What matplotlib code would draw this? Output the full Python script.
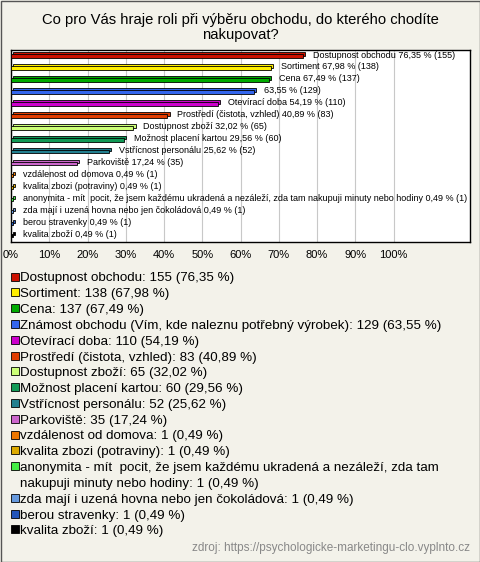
import textwrap
import matplotlib
matplotlib.use("Agg")
import matplotlib.pyplot as plt
from matplotlib.patches import Rectangle

plt.rcParams['font.family'] = ['Liberation Sans', 'DejaVu Sans']

title = "Co pro Vás hraje roli při výběru obchodu, do kterého chodíte\nnakupovat?"
source = "zdroj: https://psychologicke-marketingu-clo.vyplnto.cz"

labels = [
    "Dostupnost obchodu",
    "Sortiment",
    "Cena",
    "Známost obchodu (Vím, kde naleznu potřebný výrobek)",
    "Otevírací doba",
    "Prostředí (čistota, vzhled)",
    "Dostupnost zboží",
    "Možnost placení kartou",
    "Vstřícnost personálu",
    "Parkoviště",
    "vzdálenost od domova",
    "kvalita zbozi (potraviny)",
    "anonymita - mít  pocit, že jsem každému ukradená a nezáleží, zda tam nakupuji minuty nebo hodiny",
    "zda mají i uzená hovna nebo jen čokoládová",
    "berou stravenky",
    "kvalita zboží",
]
# the bar for "Známost obchodu" carries only its numbers
show_name = [True, True, True, False] + [True] * 12
counts = [155, 138, 137, 129, 110, 83, 65, 60, 52, 35, 1, 1, 1, 1, 1, 1]
percents = [76.35, 67.98, 67.49, 63.55, 54.19, 40.89, 32.02, 29.56, 25.62, 17.24,
            0.49, 0.49, 0.49, 0.49, 0.49, 0.49]
colors = ['#cc1100', '#ffee00', '#00aa00', '#3366ee', '#cc00cc', '#e03c00',
          '#ccff77', '#119955', '#227f8f', '#cc66cc', '#ee7700', '#ddaa00',
          '#44ee44', '#6699dd', '#2255bb', '#000000']
xticks = [0, 10, 20, 30, 40, 50, 60, 70, 80, 90, 100]

W, H = 480, 562
bg = '#f3f2ea'


def fmt(p):
    return f"{p:.2f}".replace('.', ',')


fig = plt.figure(figsize=(W / 100, H / 100), dpi=100, facecolor=bg)
fig.patches.append(Rectangle((0.5 / W, 0.5 / H), 1 - 1 / W, 1 - 1 / H,
                             transform=fig.transFigure, fill=False,
                             edgecolor='#555555', linewidth=1))

fig.text(0.5, 1 - 27.5 / H, title, ha='center', va='center', fontsize=10.6,
         linespacing=1.05)

ax = fig.add_axes([11 / W, 1 - 242 / H, 459 / W, 192 / H])
ax.set_facecolor('white')
n = len(labels)
ys = list(range(n))

# bars with a small 3d look: top face behind, front face on top
depth_x = 0.55
depth_y = 0.17
for y, p, c in zip(ys, percents, colors):
    ax.barh(y - depth_y, p, left=depth_x, height=0.3, color=c,
            edgecolor='black', linewidth=0.6, zorder=2)
    ax.barh(y, p, height=0.3, color=c, edgecolor='black', linewidth=0.6,
            zorder=3)

for y, p, cnt, name, show in zip(ys, percents, counts, labels, show_name):
    txt = f"{name} {fmt(p)} % ({cnt})" if show else f"{fmt(p)} % ({cnt})"
    ax.annotate(txt, (p, y - 0.08), xytext=(7, 0), textcoords='offset points',
                ha='left', va='center', fontsize=6.5, zorder=4)

ax.set_xlim(0, 120)
ax.set_ylim(n - 0.45, -0.5)
ax.set_yticks([])
ax.set_xticks(xticks)
ax.set_xticklabels([f"{t}%" for t in xticks], fontsize=8)
ax.tick_params(axis='x', length=0, pad=6)
ax.grid(axis='x', color='#c8c8c8', linewidth=0.8, zorder=0)
ax.set_axisbelow(True)
for s in ax.spines.values():
    s.set_color('black')
    s.set_linewidth(1)

# legend below the plot, one text per printed line
line_h = 15.8
y0 = 277
line = 0
for name, cnt, p, c in zip(labels, counts, percents, colors):
    parts = textwrap.wrap(f"{name}: {cnt} ({fmt(p)} %)", 70)
    yc = y0 + line * line_h
    fig.patches.append(Rectangle((11 / W, 1 - (yc + 3.5) / H), 8 / W, 8 / H,
                                 transform=fig.transFigure, facecolor=c,
                                 edgecolor='black', linewidth=0.6))
    for part in parts:
        fig.text(20 / W, 1 - (y0 + line * line_h + 4.5) / H, part, ha='left',
                 va='baseline', fontsize=9.6)
        line += 1

fig.text(470 / W, 1 - 548 / H, source, ha='right', va='center', fontsize=8.5,
         color='#888888')

fig.savefig('out.png', dpi=100, facecolor=bg)
